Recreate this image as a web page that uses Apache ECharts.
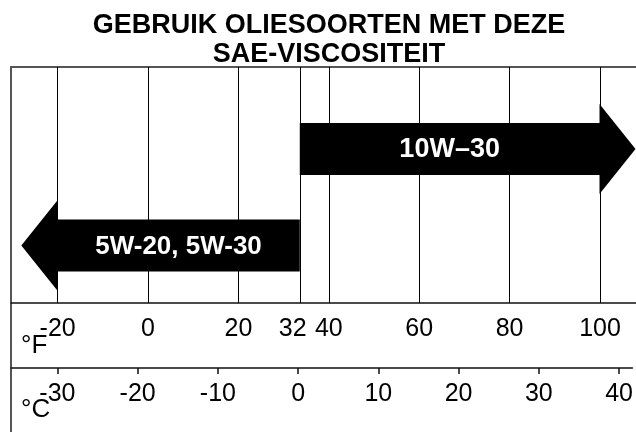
<!DOCTYPE html>
<html>
<head>
<meta charset="utf-8">
<script src="https://cdn.jsdelivr.net/npm/echarts@6/dist/echarts.min.js"></script>
<style>
html,body{margin:0;padding:0;background:#fff;}
#chart{width:636px;height:432px;}
</style>
</head>
<body>
<div id="chart"></div>
<script>
// ---- data ----
const titleLines = ['GEBRUIK OLIESOORTEN MET DEZE', 'SAE-VISCOSITEIT'];
const fTickLabels = [-20, 0, 20, 32, 40, 60, 80, 100];
const fGridLines = [-20, 0, 20, 40, 60, 80, 100];
const cTickLabels = [-30, -20, -10, 0, 10, 20, 30, 40];
const freezingLineC = [0];
const oilGrades = ['10W\u201330', '5W-20, 5W-30'];
const oilFromC = [0, 0];
const oilTipC = [41.6, -34.5];

// ---- layout / style ----
const FONT = '"Liberation Sans", Arial, Helvetica, sans-serif';
const C_MIN = -35.78, C_MAX = 41.66;
const F_MIN = -30.33, F_MAX = 107.97;
const ARROW_ROW = [0.653, 0.244];
const ARROW_FONT = [27, 26];
const BODY_HALF = 26, HEAD_HALF = 45, HEAD_LEN = 36;

const chart = echarts.init(document.getElementById('chart'), null, {renderer: 'canvas'});

function renderArrow(params, api) {
  const i = params.dataIndex;
  const p0 = api.coord([api.value(0), api.value(2)]);
  const p1 = api.coord([api.value(1), api.value(2)]);
  const dir = p1[0] > p0[0] ? 1 : -1;
  const yc = p0[1];
  const base = p1[0] - dir * HEAD_LEN;
  const pts = [
    [p0[0], yc - BODY_HALF], [base, yc - BODY_HALF], [base, yc - HEAD_HALF],
    [p1[0], yc], [base, yc + HEAD_HALF], [base, yc + BODY_HALF], [p0[0], yc + BODY_HALF]
  ];
  return {
    type: 'group',
    children: [
      {type: 'polygon', shape: {points: pts}, style: {fill: '#000'}},
      {type: 'text', style: {
        text: oilGrades[i], x: (p0[0] + base) / 2, y: yc + 1,
        fill: '#fff', font: 'bold ' + ARROW_FONT[i] + 'px ' + FONT, align: 'center', verticalAlign: 'middle'
      }}
    ]
  };
}

const borderLine = {show: true, onZero: false, lineStyle: {color: '#555', width: 2}};
const darkLine = {show: true, onZero: false, lineStyle: {color: '#111', width: 1.5}};

const option = {
  animation: false,
  backgroundColor: '#fff',
  title: [
    {
      text: titleLines.join('\n'),
      left: 329, textAlign: 'center', top: 11, padding: 0,
      textStyle: {fontFamily: FONT, fontSize: 27, fontWeight: 'bold', color: '#000', lineHeight: 29}
    },
    {text: '\u00b0F', left: 21, top: 333, padding: 0,
      textStyle: {fontFamily: FONT, fontSize: 26, fontWeight: 'normal', color: '#000'}},
    {text: '\u00b0C', left: 21, top: 397, padding: 0,
      textStyle: {fontFamily: FONT, fontSize: 26, fontWeight: 'normal', color: '#000'}}
  ],
  grid: [
    {left: 11, right: 0, top: 67, height: 236},
    {left: 11, right: 0, top: 303, height: 65},
    {left: 11, right: 0, top: 368, bottom: 0}
  ],
  xAxis: [
    { // C scale, main grid, top border
      type: 'value', gridIndex: 0, position: 'top', min: C_MIN, max: C_MAX,
      axisLine: borderLine, axisTick: {show: false}, axisLabel: {show: false}, splitLine: {show: false}
    },
    { // F scale, main grid bottom
      type: 'value', gridIndex: 0, position: 'bottom', min: F_MIN, max: F_MAX,
      axisLine: darkLine, axisTick: {show: false}, splitLine: {show: false},
      axisLabel: {customValues: fTickLabels, fontFamily: FONT, fontSize: 25, color: '#000', margin: 14,
        showMinLabel: true, showMaxLabel: true, hideOverlap: false}
    },
    { // C scale, band
      type: 'value', gridIndex: 1, position: 'bottom', min: C_MIN, max: C_MAX,
      axisLine: darkLine, splitLine: {show: false},
      axisTick: {customValues: cTickLabels, length: 6, lineStyle: {color: '#111', width: 1.5}},
      axisLabel: {customValues: cTickLabels, fontFamily: FONT, fontSize: 25, color: '#000', margin: 14,
        hideOverlap: false}
    },
    {
      type: 'value', gridIndex: 2, min: C_MIN, max: C_MAX, show: false
    }
  ],
  yAxis: [
    {type: 'value', gridIndex: 0, min: 0, max: 1, axisLine: borderLine, axisTick: {show: false},
      axisLabel: {show: false}, splitLine: {show: false}},
    {type: 'value', gridIndex: 1, min: 0, max: 1, axisLine: borderLine, axisTick: {show: false},
      axisLabel: {show: false}, splitLine: {show: false}},
    {type: 'value', gridIndex: 2, min: 0, max: 1, axisLine: borderLine, axisTick: {show: false},
      axisLabel: {show: false}, splitLine: {show: false}}
  ],
  series: [
    {
      type: 'line', xAxisIndex: 1, yAxisIndex: 0, data: [], z: 1, silent: true,
      markLine: {
        symbol: ['none', 'none'], silent: true, animation: false,
        label: {show: false},
        lineStyle: {color: '#000', width: 1, type: 'solid'},
        data: fGridLines.map(v => ({xAxis: v}))
      }
    },
    {
      type: 'line', xAxisIndex: 0, yAxisIndex: 0, data: [], z: 1, silent: true,
      markLine: {
        symbol: ['none', 'none'], silent: true, animation: false,
        label: {show: false},
        lineStyle: {color: '#000', width: 1, type: 'solid'},
        data: freezingLineC.map(v => ({xAxis: v}))
      }
    },
    {
      type: 'custom', xAxisIndex: 0, yAxisIndex: 0, z: 5, silent: true, clip: false,
      renderItem: renderArrow,
      data: oilGrades.map((g, i) => [oilFromC[i], oilTipC[i], ARROW_ROW[i]])
    }
  ]
};
chart.setOption(option);
</script>
</body>
</html>
